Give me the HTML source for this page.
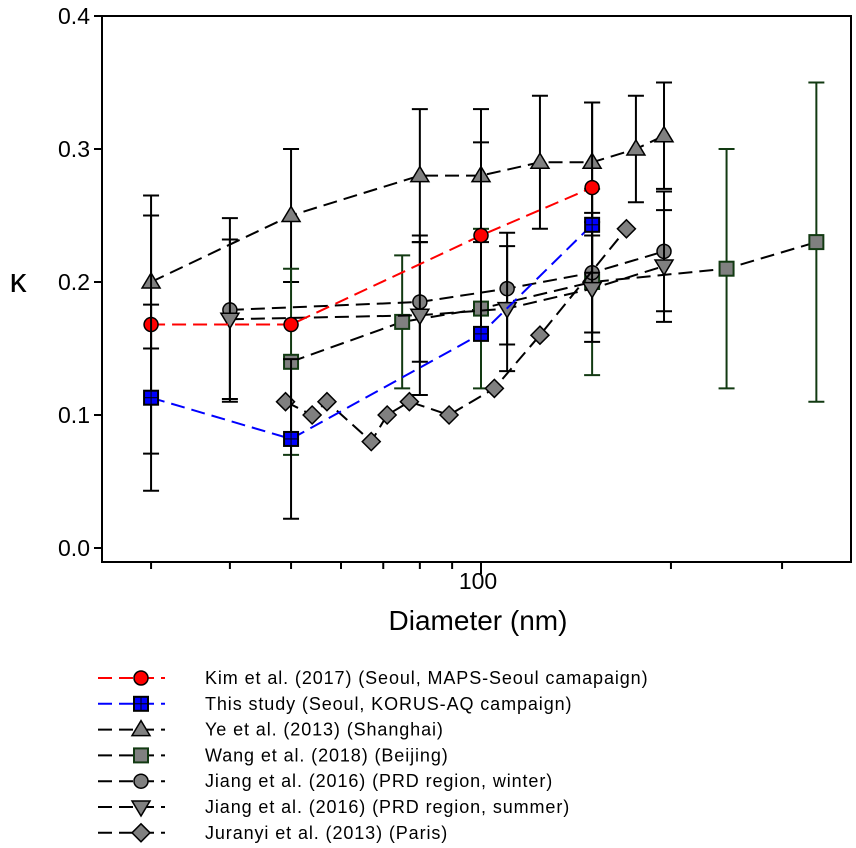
<!DOCTYPE html>
<html><head><meta charset="utf-8"><style>
body{margin:0;background:#fff;}
svg{display:block;font-family:"Liberation Sans",Arial,sans-serif;}
</style></head><body>
<svg id="chart" width="856" height="848" viewBox="0 0 856 848"></svg>
<script>
const kimX=[30,50,100,150], kimY=[0.168,0.168,0.235,0.271], kimE=[0.097,0,0.07,0.064];
const thisX=[30,50,100,150], thisY=[0.113,0.082,0.161,0.243], thisE=[0.07,0.06,0,0];
const yeX=[30,50,80,100,124,150,176,195], yeY=[0.2,0.25,0.28,0.28,0.29,0.29,0.30,0.31], yeE=[0.05,0.05,0.05,0.05,0.05,0.045,0.04,0.04];
const wangX=[50,75,100,150,245,340], wangY=[0.14,0.17,0.18,0.2,0.21,0.23], wangE=[0.07,0.05,0.06,0.07,0.09,0.12];
const jwX=[40,80,110,150,195], jwY=[0.179,0.185,0.195,0.207,0.223], jwE=[0.069,0.045,0.042,0.045,0.045];
const jsX=[40,80,110,150,195], jsY=[0.172,0.175,0.18,0.195,0.212], jsE=[0.06,0.06,0.047,0.04,0.042];
const juX=[49,54,57,67,71,77,89,105,124,170], juY=[0.11,0.1,0.11,0.08,0.1,0.11,0.1,0.12,0.16,0.24];
const xTicks=[30,40,50,60,70,80,90,100,200,300,400];
const yTicks=[0,0.1,0.2,0.3,0.4];
const yLabels=["0.0","0.1","0.2","0.3","0.4"];

const NS="http://www.w3.org/2000/svg";
const svg=document.getElementById('chart');
const L=102,R=851,T=16,B=562;
function xs(d){return 481+631*Math.log10(d/100);}
function ys(v){return 548-1330*v;}
function el(tag,attrs,parent){const e=document.createElementNS(NS,tag);for(const k in attrs)e.setAttribute(k,attrs[k]);(parent||svg).appendChild(e);return e;}

const frame=el('rect',{x:L,y:T,width:R-L,height:B-T,fill:'none',stroke:'#000','stroke-width':2});


yTicks.forEach((v,i)=>{
  const t=el('line',{x1:L-8,x2:L,y1:ys(v),y2:ys(v),stroke:'#000','stroke-width':2});
  
  
  const tx=el('text',{x:L-12,y:ys(v)+8,'text-anchor':'end','font-size':23});
  tx.textContent=yLabels[i];
  
  
});
xTicks.forEach(d=>{
  const t=el('line',{x1:xs(d),x2:xs(d),y1:B,y2:B+(d===100?12:7),stroke:'#000','stroke-width':2});
  
  
});
const xl=el('text',{x:xs(100)-3,y:589,'text-anchor':'middle','font-size':23});xl.textContent='100';


const xt=el('text',{x:478,y:630,'text-anchor':'middle','font-size':28});xt.textContent='Diameter (nm)';


const yt=el('text',{x:18,y:292,'text-anchor':'middle','font-size':34});yt.textContent='κ';



function marker(g,shape,x,y,fill,stroke){
  const s=7;
  let m;
  if(shape==='circle')m=el('circle',{cx:x,cy:y,r:s,fill,stroke,'stroke-width':1.5},g);
  else if(shape==='square'||shape==='gsquare'){m=el('rect',{x:x-s,y:y-s,width:2*s,height:2*s,fill,stroke,'stroke-width':2},g);
    if(shape==='gsquare'){el('line',{x1:x-s,x2:x+s,y1:y,y2:y,stroke:'#000','stroke-width':1},g);el('line',{x1:x,x2:x,y1:y-s,y2:y+s,stroke:'#000','stroke-width':1},g);}}
  else if(shape==='tri')m=el('polygon',{points:`${x},${y-9} ${x-9},${y+6} ${x+9},${y+6}`,fill,stroke,'stroke-width':1.5},g);
  else if(shape==='dtri')m=el('polygon',{points:`${x},${y+9} ${x-9},${y-6} ${x+9},${y-6}`,fill,stroke,'stroke-width':1.5},g);
  else m=el('polygon',{points:`${x},${y-9} ${x+9},${y} ${x},${y+9} ${x-9},${y}`,fill,stroke,'stroke-width':1.5},g);
  
  
}
const series=[
 {name:'ye',X:yeX,Y:yeY,E:yeE,shape:'tri',fill:'#808080',stroke:'#000',line:'#000',ec:'#000'},
 {name:'wang',X:wangX,Y:wangY,E:wangE,shape:'square',fill:'#808080',stroke:'#123a12',line:'#000',ec:'#123a12'},
 {name:'jiang-winter',X:jwX,Y:jwY,E:jwE,shape:'circle',fill:'#808080',stroke:'#000',line:'#000',ec:'#000'},
 {name:'jiang-summer',X:jsX,Y:jsY,E:jsE,shape:'dtri',fill:'#808080',stroke:'#000',line:'#000',ec:'#000'},
 {name:'juranyi',X:juX,Y:juY,E:null,shape:'diamond',fill:'#808080',stroke:'#000',line:'#000',ec:'#000'},
 {name:'kim',X:kimX,Y:kimY,E:kimE,shape:'circle',fill:'#f00',stroke:'#000',line:'#f00',ec:'#000'},
 {name:'this-study',X:thisX,Y:thisY,E:thisE,shape:'gsquare',fill:'#00f',stroke:'#000',line:'#00f',ec:'#000'}
];
series.forEach(s=>{
  const g=el('g',{});
  
  
  if(s.E) s.X.forEach((d,i)=>{ if(!s.E[i])return;
    const x=xs(d),y1=ys(s.Y[i]+s.E[i]),y2=ys(s.Y[i]-s.E[i]);
    el('line',{x1:x,x2:x,y1,y2,stroke:s.ec,'stroke-width':2},g);
    el('line',{x1:x-8,x2:x+8,y1:y1,y2:y1,stroke:s.ec,'stroke-width':2},g);
    el('line',{x1:x-8,x2:x+8,y1:y2,y2:y2,stroke:s.ec,'stroke-width':2},g);
  });
  const pts=s.X.map((d,i)=>xs(d)+','+ys(s.Y[i])).join(' ');
  const pl=el('polyline',{points:pts,fill:'none',stroke:s.line,'stroke-width':2,'stroke-dasharray':'14,7'},g);
  
  
  s.X.forEach((d,i)=>marker(g,s.shape,xs(d),ys(s.Y[i]),s.fill,s.stroke));
});
const leg=[
 ['Kim et al. (2017)  (Seoul, MAPS-Seoul camapaign)','circle','#f00','#000','#f00'],
 ['This study (Seoul, KORUS-AQ campaign)','gsquare','#00f','#000','#00f'],
 ['Ye et al. (2013)  (Shanghai)','tri','#808080','#000','#000'],
 ['Wang et al. (2018)  (Beijing)','square','#808080','#123a12','#000'],
 ['Jiang et al. (2016)  (PRD region, winter)','circle','#808080','#000','#000'],
 ['Jiang et al. (2016)  (PRD region, summer)','dtri','#808080','#000','#000'],
 ['Juranyi et al. (2013)  (Paris)','diamond','#808080','#000','#000']
];
const lg=el('g',{});


leg.forEach((r,i)=>{
  const y=678+i*25.8;
  const g=el('g',{},lg);
  
  
  el('line',{x1:98,x2:165,y1:y,y2:y,stroke:r[4],'stroke-width':2,'stroke-dasharray':'14,7'},g);
  marker(g,r[1],141,y,r[2],r[3]);
  const t=el('text',{x:205,y:y+6,'font-size':18,'letter-spacing':'0.9','xml:space':'preserve'},g);t.textContent=r[0];
});
</script>
</body></html>
